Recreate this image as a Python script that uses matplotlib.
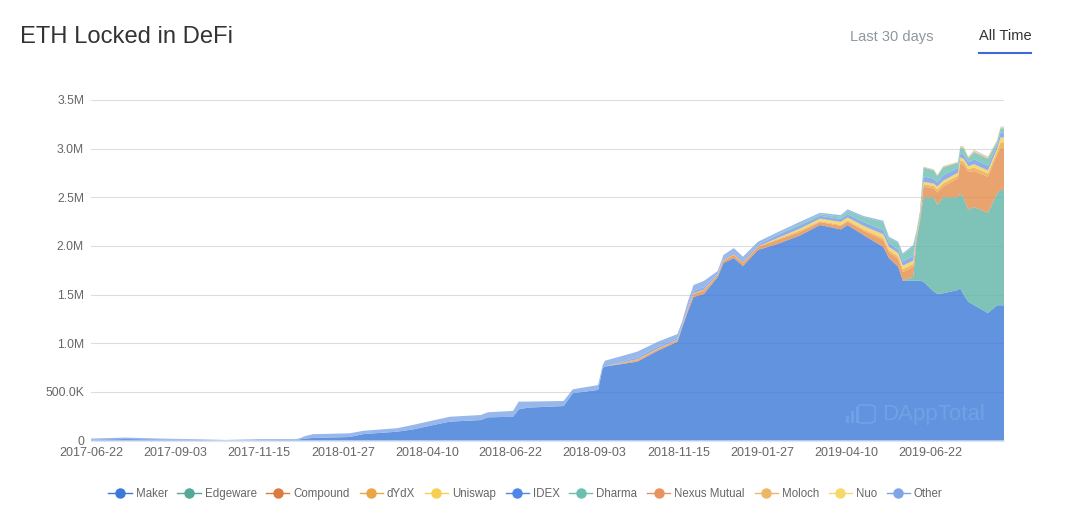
import pandas as pd
import matplotlib
matplotlib.use("Agg")
import matplotlib.pyplot as plt
from matplotlib.lines import Line2D
from matplotlib.patches import FancyBboxPatch, Rectangle

plt.rcParams['font.family'] = ['Liberation Sans', 'DejaVu Sans']

# -----------------------------
# Data (millions of ETH, days since start)
# -----------------------------
start = pd.Timestamp("2017-06-22")
end = pd.Timestamp("2019-08-25")

days = [0, 30, 60, 95, 117, 147, 178, 182, 186, 193,
        225, 237, 266, 280, 295, 312, 339, 345, 367, 372,
        380, 411, 419, 441, 445, 447, 475, 493, 510, 514,
        519, 524, 533, 545, 550, 559, 567, 580, 597, 617,
        634, 652, 658, 672, 689, 694, 702, 706, 715, 718,
        721, 724, 733, 736, 741, 754, 756, 759, 763, 768,
        780, 788, 791, 795]

maker = [.008, .015, .01, .005, .002, .004, .006, .012, .02, .026,
         .036, .066, .09, .114, .152, .194, .21, .238, .244, .32,
         .338, .354, .486, .52, .745, .76, .81, .923, 1.015, 1.156,
         1.324, 1.475, 1.506, 1.68, 1.824, 1.876, 1.793, 1.958, 2.02, 2.11,
         2.215, 2.17, 2.215, 2.11, 1.99, 1.875, 1.786, 1.642, 1.642, 1.642,
         1.642, 1.632, 1.53, 1.506, 1.513, 1.547, 1.564, 1.495, 1.426, 1.39,
         1.31, 1.39, 1.39, 1.39]
edgeware = [0] * 48 + [.041, .418, .62, .868, .97, .914, .987, .953, .976, .995,
                       .944, 1.01, 1.03, 1.15, 1.185, 1.185]
compound = [0] * 26 + [.015, .015, .015, .012,
                       .02, .03, .035, .02, .025, .03, .03, .03, .04, .035,
                       .03, .035, .035, .045, .07, .06, .08, .09, .10, .03,
                       .03, .11, .09, .13, .11, .193, .31, .34, .39, .37,
                       .37, .40, .43, .43]
dydx = [0] * 26 + [.01, .008, .006, .004,
                   .008, .01, .01, .005, .007, .01, .008, .007, .01, .015,
                   .01, .012, .012, .015, .02, .02, .025, .03, .03, .012,
                   .012, .025, .025, .03, .03, .03, .03, .035, .03, .035,
                   .035, .03, .06, .06]
uniswap = [0] * 38 + [.01, .02,
                      .025, .03, .03, .035, .04, .035, .035, .035, .035, .012,
                      .012, .025, .025, .03, .03, .03, .03, .03, .03, .035,
                      .03, .03, .05, .05]
idex = [0] * 26 + [.02, .02, .015, .012,
                   .02, .025, .025, .012, .015, .02, .02, .015, .035, .035,
                   .03, .03, .035, .04, .045, .04, .04, .045, .05, .016,
                   .016, .055, .05, .045, .055, .05, .04, .045, .04, .05,
                   .05, .04, .05, .05]
dharma = [0] * 38 + [.005, .015,
                     .015, .025, .035, .05, .08, .05, .065, .07, .095, .025,
                     .025, .09, .085, .062, .08, .05, .06, .06, .04, .07,
                     .07, .03, .04, .04]
nexus = [0] * 51 + [.003, .004, .004, .005, .004, .006, .007, .005, .008, .007, .005, .006, .006]
moloch = [0] * 51 + [.002, .003, .003, .004, .003, .004, .005, .004, .006, .005, .005, .005, .005]
nuo = [0] * 51 + [.002, .003, .003, .003, .003, .004, .004, .004, .006, .005, .004, .005, .005]
other = [.012, .015, .01, .007, .004, .01, .008, .013, .025, .039,
         .038, .034, .036, .046, .048, .05, .052, .052, .06, .08,
         .062, .052, .04, .05, .031, .06, .058, .049, .043, .036,
         .054, .058, .064, .025, .035, .042, .038, .033, .02, .02,
         .015, .015, .014, .012, .014, .014, .012, .012, .016, .005,
         .005, .002, .002, .002, .003, .002, .003, .004, .004, .006,
         .005, .004, .004, .004]

names = ["Maker", "Edgeware", "Compound", "dYdX", "Uniswap", "IDEX",
         "Dharma", "Nexus Mutual", "Moloch", "Nuo", "Other"]
fill_colors = ["#3B78D8", "#5FB5A6", "#E38C4B", "#EBA544", "#F5CF52", "#6F9BE6",
               "#6BBFB0", "#E8935F", "#EDB768", "#F7D86B", "#7EA6E6"]
legend_colors = ["#3B78D8", "#55A897", "#DD7A3E", "#EBA544", "#F5CF52", "#4F86E8",
                 "#6BBFB0", "#E8935F", "#EDB768", "#F7D86B", "#7EA6E6"]

date_ticks = ["2017-06-22", "2017-09-03", "2017-11-15", "2018-01-27", "2018-04-10", "2018-06-22",
              "2018-09-03", "2018-11-15", "2019-01-27", "2019-04-10", "2019-06-22"]
value_ticks = [0, 0.5, 1.0, 1.5, 2.0, 2.5, 3.0, 3.5]
value_labels = ["0", "500.0K", "1.0M", "1.5M", "2.0M", "2.5M", "3.0M", "3.5M"]

# -----------------------------
# Figure
# -----------------------------
W, H = 1080, 530
fig = plt.figure(figsize=(W / 100, H / 100), dpi=100, facecolor="white")
ax = fig.add_axes([91 / W, 1 - 440.5 / H, 913 / W, 340.5 / H])

dates = start + pd.to_timedelta(days, unit="D")
ax.stackplot(dates, maker, edgeware, compound, dydx, uniswap, idex, dharma, nexus, moloch, nuo, other,
             colors=fill_colors, alpha=0.8, linewidth=0, zorder=2)

ax.set_xlim(start, end)
ax.set_ylim(0, 3.5)
ax.set_yticks(value_ticks)
ax.set_yticklabels(value_labels, fontsize=8.7)
ax.set_xticks(pd.to_datetime(date_ticks))
ax.set_xticklabels(date_ticks, fontsize=9)
ax.tick_params(axis="both", length=0, labelcolor="#666666")
ax.tick_params(axis="y", pad=5)
ax.tick_params(axis="x", pad=5)
ax.grid(axis="y", color="#DDDDDD", linewidth=0.8, zorder=1)
ax.set_axisbelow(True)
for s in ["top", "right", "left"]:
    ax.spines[s].set_visible(False)
ax.spines["bottom"].set_color("#DCE6F5")

# Header
fig.text(20 / W, 1 - 37 / H, "ETH Locked in DeFi", fontsize=17.1, color="#333333", va="center")
fig.text(850 / W, 1 - 36.5 / H, "Last 30 days", fontsize=10.5, color="#8E969E", va="center")
fig.text(979 / W, 1 - 36.5 / H, "All Time", fontsize=10.5, color="#333333", va="center")
fig.add_artist(Line2D([979 / W, 1031 / W], [1 - 52.5 / H, 1 - 52.5 / H], color="#3F68D8", linewidth=1.5))

# Watermark
wm = "#72A0E4"
fig.text(882 / W, 1 - 414.5 / H, "DAppTotal", fontsize=16, color=wm, va="center")
fig.add_artist(FancyBboxPatch((857 / W, 1 - 423 / H), 18 / W, 18 / H, boxstyle="round,pad=0,rounding_size=0.006",
                              fc="none", ec=wm, lw=1.3, transform=fig.transFigure))
for bx, bh in [(846, 7), (851, 12), (856, 16)]:
    fig.add_artist(Rectangle((bx / W, 1 - 423 / H), 2.5 / W, bh / H, fc=wm, ec="none", transform=fig.transFigure))

# Legend
handles = [Line2D([], [], color=c, marker="o", markersize=6.5, linewidth=1, label=n)
           for n, c in zip(names, legend_colors)]
fig.legend(handles=handles, loc="center", bbox_to_anchor=(525.5 / W, 1 - 494 / H), ncol=len(names),
           frameon=False, fontsize=8.3, labelcolor="#666666", handlelength=2.0, handletextpad=0.35,
           columnspacing=0.85, borderpad=0, borderaxespad=0)

fig.savefig("out.png", dpi=100)
